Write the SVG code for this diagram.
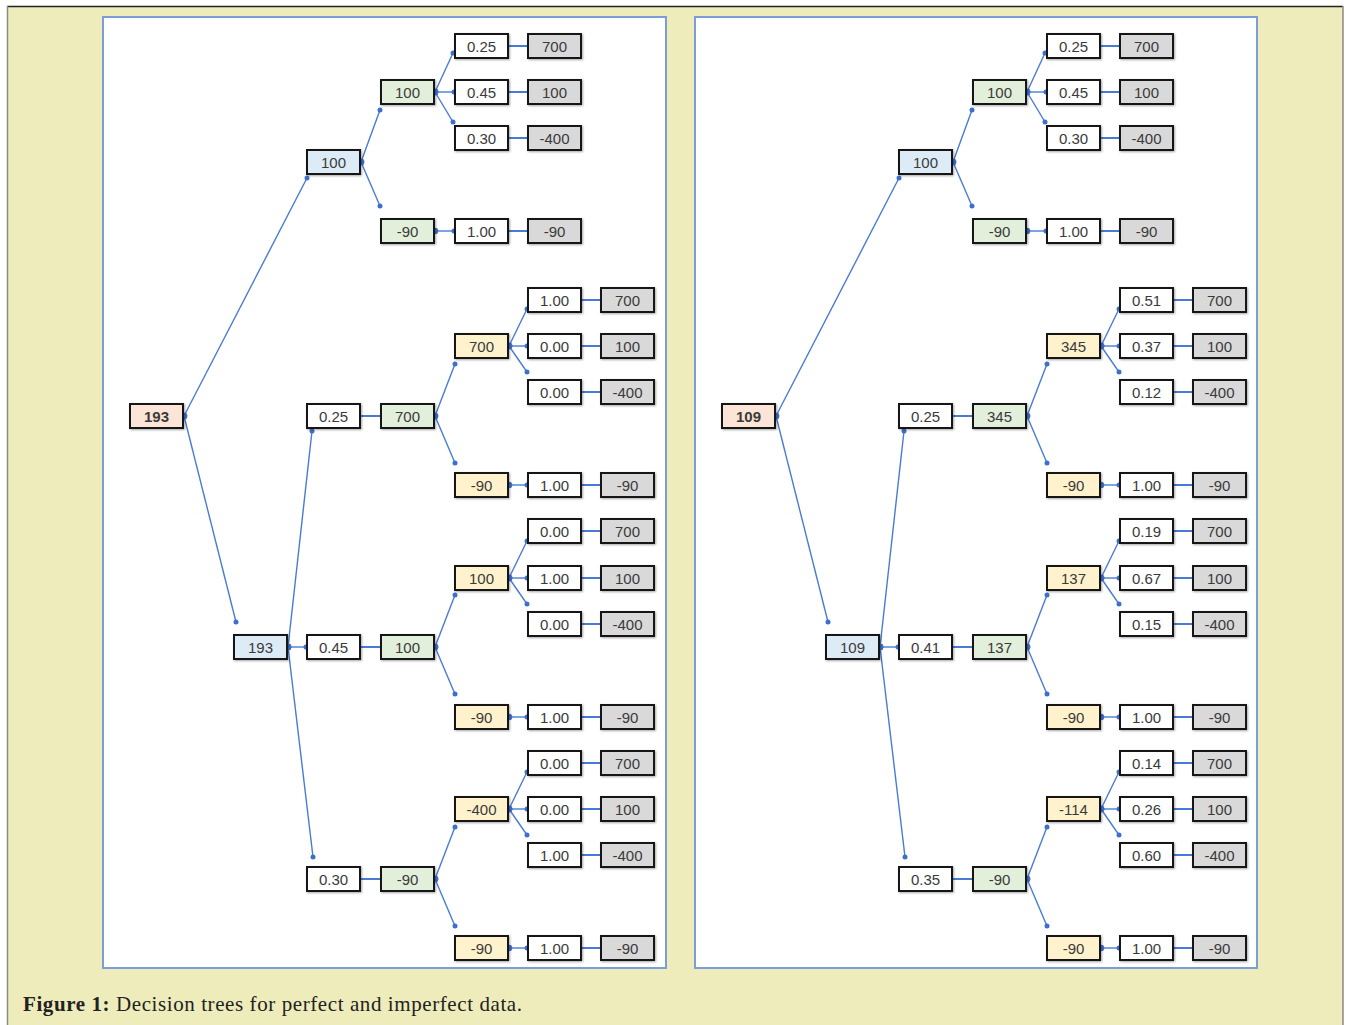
<svg xmlns="http://www.w3.org/2000/svg" width="1346" height="1025" viewBox="0 0 1346 1025">
<style>
  .b{stroke:#141414;stroke-width:2;filter:url(#sh)}
  .w{fill:#ffffff}.bl{fill:#ddebf7}.gr{fill:#e2efda}.ye{fill:#fff2cc}.gy{fill:#d9d9d9}.sa{fill:#fce4d6}
  text.t{font-family:"Liberation Sans",Arial,sans-serif;font-size:15px;fill:#3a3a3a;text-anchor:middle}
  text.bold{font-weight:bold}
  .c{stroke:#4a7bd4;stroke-width:1.4;fill:none}
  .a{marker-start:url(#ds);marker-end:url(#de)}
  .p{stroke-width:2}
  .panel{fill:#ffffff;stroke:#7b9ddb;stroke-width:2}
</style>
<defs>
  <filter id="sh" x="-10%" y="-20%" width="125%" height="150%">
    <feDropShadow dx="1" dy="1" stdDeviation="0.8" flood-color="#000" flood-opacity="0.35"/>
  </filter>
  <marker id="ds" markerUnits="userSpaceOnUse" markerWidth="8" markerHeight="8" refX="4" refY="4" viewBox="0 0 8 8">
    <circle cx="4" cy="4" r="3.3" fill="#3f6fcc"/>
  </marker>
  <marker id="de" markerUnits="userSpaceOnUse" markerWidth="6" markerHeight="6" refX="3" refY="3" viewBox="0 0 6 6">
    <circle cx="3" cy="3" r="2.5" fill="#3f6fcc"/>
  </marker>
</defs>

<!-- figure frame -->
<rect x="0" y="0" width="1346" height="1025" fill="#ffffff"/>
<rect x="7" y="6" width="1336" height="1019" fill="#efecbc"/>
<line x1="7" y1="6.5" x2="1343" y2="6.5" stroke="#222" stroke-width="1.5"/>
<line x1="7.5" y1="6" x2="7.5" y2="1025" stroke="#8a8a8a" stroke-width="1.5"/>
<line x1="1343" y1="6" x2="1343" y2="1025" stroke="#8a8a8a" stroke-width="1.5"/>

<!-- panels -->
<rect class="panel" x="103" y="17" width="563" height="951"/>
<rect class="panel" x="695" y="17" width="562" height="951"/>

<text x="23" y="1011" font-family="'Liberation Serif','Times New Roman',serif" font-size="21" fill="#222" textLength="499" lengthAdjust="spacing"><tspan font-weight="bold">Figure 1:</tspan> Decision trees for perfect and imperfect data.</text>

<!-- ===== perfect-data tree ===== -->
<g id="connectors-left">
  <line class="c a" x1="184" y1="416" x2="307" y2="178"/>
  <line class="c a" x1="184" y1="416" x2="236" y2="622"/>
  <line class="c a" x1="288" y1="647" x2="312" y2="431"/>
  <line class="c a" x1="288" y1="647" x2="306" y2="647"/>
  <line class="c a" x1="288" y1="647" x2="313" y2="857"/>
  <line class="c a" x1="361" y1="162" x2="380" y2="110"/>
  <line class="c a" x1="361" y1="162" x2="380" y2="206"/>
  <line class="c p" x1="360" y1="416" x2="381" y2="416"/>
  <line class="c p" x1="360" y1="647" x2="381" y2="647"/>
  <line class="c p" x1="360" y1="879" x2="381" y2="879"/>
  <line class="c a" x1="435" y1="92" x2="453" y2="53"/>
  <line class="c a" x1="435" y1="92" x2="454" y2="92"/>
  <line class="c a" x1="435" y1="92" x2="453" y2="122"/>
  <line class="c a" x1="435" y1="231" x2="454" y2="231"/>
  <line class="c a" x1="435" y1="416" x2="455" y2="364"/>
  <line class="c a" x1="435" y1="416" x2="455" y2="463"/>
  <line class="c a" x1="435" y1="647" x2="455" y2="595"/>
  <line class="c a" x1="435" y1="647" x2="455" y2="694"/>
  <line class="c a" x1="435" y1="879" x2="455" y2="827"/>
  <line class="c a" x1="435" y1="879" x2="455" y2="926"/>
  <line class="c p" x1="508" y1="46" x2="528" y2="46"/>
  <line class="c p" x1="508" y1="92" x2="528" y2="92"/>
  <line class="c p" x1="508" y1="138" x2="528" y2="138"/>
  <line class="c p" x1="508" y1="231" x2="528" y2="231"/>
  <line class="c a" x1="509" y1="346" x2="527" y2="309"/>
  <line class="c a" x1="509" y1="346" x2="527" y2="346"/>
  <line class="c a" x1="509" y1="346" x2="527" y2="372"/>
  <line class="c a" x1="509" y1="485" x2="527" y2="485"/>
  <line class="c a" x1="509" y1="578" x2="527" y2="541"/>
  <line class="c a" x1="509" y1="578" x2="527" y2="578"/>
  <line class="c a" x1="509" y1="578" x2="527" y2="604"/>
  <line class="c a" x1="509" y1="717" x2="527" y2="717"/>
  <line class="c a" x1="509" y1="809" x2="527" y2="772"/>
  <line class="c a" x1="509" y1="809" x2="527" y2="809"/>
  <line class="c a" x1="509" y1="809" x2="527" y2="835"/>
  <line class="c a" x1="509" y1="948" x2="527" y2="948"/>
  <line class="c p" x1="581" y1="300" x2="601" y2="300"/>
  <line class="c p" x1="581" y1="346" x2="601" y2="346"/>
  <line class="c p" x1="581" y1="392" x2="601" y2="392"/>
  <line class="c p" x1="581" y1="485" x2="601" y2="485"/>
  <line class="c p" x1="581" y1="531" x2="601" y2="531"/>
  <line class="c p" x1="581" y1="578" x2="601" y2="578"/>
  <line class="c p" x1="581" y1="624" x2="601" y2="624"/>
  <line class="c p" x1="581" y1="717" x2="601" y2="717"/>
  <line class="c p" x1="581" y1="763" x2="601" y2="763"/>
  <line class="c p" x1="581" y1="809" x2="601" y2="809"/>
  <line class="c p" x1="581" y1="855" x2="601" y2="855"/>
  <line class="c p" x1="581" y1="948" x2="601" y2="948"/>
</g>

<g id="L-root"><rect class="b sa" x="130" y="404" width="53" height="24"/><text class="t bold" x="156.5" y="421.5">193</text></g>
<g id="L-chance"><rect class="b bl" x="234" y="635" width="53" height="24"/><text class="t" x="260.5" y="652.5">193</text></g>

<g id="L-a"><rect class="b bl" x="307" y="150" width="53" height="24"/><text class="t" x="333.5" y="167.5">100</text></g>
<g id="L-a1"><rect class="b gr" x="381" y="80" width="53" height="24"/><text class="t" x="407.5" y="97.5">100</text></g>
<g id="L-a2"><rect class="b gr" x="381" y="219" width="53" height="24"/><text class="t" x="407.5" y="236.5">-90</text></g>
<g id="L-a1p1"><rect class="b w" x="455" y="34" width="53" height="24"/><text class="t" x="481.5" y="51.5">0.25</text></g>
<g id="L-a1v1"><rect class="b gy" x="528" y="34" width="53" height="24"/><text class="t" x="554.5" y="51.5">700</text></g>
<g id="L-a1p2"><rect class="b w" x="455" y="80" width="53" height="24"/><text class="t" x="481.5" y="97.5">0.45</text></g>
<g id="L-a1v2"><rect class="b gy" x="528" y="80" width="53" height="24"/><text class="t" x="554.5" y="97.5">100</text></g>
<g id="L-a1p3"><rect class="b w" x="455" y="126" width="53" height="24"/><text class="t" x="481.5" y="143.5">0.30</text></g>
<g id="L-a1v3"><rect class="b gy" x="528" y="126" width="53" height="24"/><text class="t" x="554.5" y="143.5">-400</text></g>
<g id="L-a2p"><rect class="b w" x="455" y="219" width="53" height="24"/><text class="t" x="481.5" y="236.5">1.00</text></g>
<g id="L-a2v"><rect class="b gy" x="528" y="219" width="53" height="24"/><text class="t" x="554.5" y="236.5">-90</text></g>

<g id="L-b"><rect class="b w" x="307" y="404" width="53" height="24"/><text class="t" x="333.5" y="421.5">0.25</text></g>
<g id="L-b0"><rect class="b gr" x="381" y="404" width="53" height="24"/><text class="t" x="407.5" y="421.5">700</text></g>
<g id="L-b1"><rect class="b ye" x="455" y="334" width="53" height="24"/><text class="t" x="481.5" y="351.5">700</text></g>
<g id="L-b1p1"><rect class="b w" x="528" y="288" width="53" height="24"/><text class="t" x="554.5" y="305.5">1.00</text></g>
<g id="L-b1v1"><rect class="b gy" x="601" y="288" width="53" height="24"/><text class="t" x="627.5" y="305.5">700</text></g>
<g id="L-b1p2"><rect class="b w" x="528" y="334" width="53" height="24"/><text class="t" x="554.5" y="351.5">0.00</text></g>
<g id="L-b1v2"><rect class="b gy" x="601" y="334" width="53" height="24"/><text class="t" x="627.5" y="351.5">100</text></g>
<g id="L-b1p3"><rect class="b w" x="528" y="380" width="53" height="24"/><text class="t" x="554.5" y="397.5">0.00</text></g>
<g id="L-b1v3"><rect class="b gy" x="601" y="380" width="53" height="24"/><text class="t" x="627.5" y="397.5">-400</text></g>
<g id="L-b2"><rect class="b ye" x="455" y="473" width="53" height="24"/><text class="t" x="481.5" y="490.5">-90</text></g>
<g id="L-b2p"><rect class="b w" x="528" y="473" width="53" height="24"/><text class="t" x="554.5" y="490.5">1.00</text></g>
<g id="L-b2v"><rect class="b gy" x="601" y="473" width="53" height="24"/><text class="t" x="627.5" y="490.5">-90</text></g>

<g id="L-c"><rect class="b w" x="307" y="635" width="53" height="24"/><text class="t" x="333.5" y="652.5">0.45</text></g>
<g id="L-c0"><rect class="b gr" x="381" y="635" width="53" height="24"/><text class="t" x="407.5" y="652.5">100</text></g>
<g id="L-c1"><rect class="b ye" x="455" y="566" width="53" height="24"/><text class="t" x="481.5" y="583.5">100</text></g>
<g id="L-c1p1"><rect class="b w" x="528" y="519" width="53" height="24"/><text class="t" x="554.5" y="536.5">0.00</text></g>
<g id="L-c1v1"><rect class="b gy" x="601" y="519" width="53" height="24"/><text class="t" x="627.5" y="536.5">700</text></g>
<g id="L-c1p2"><rect class="b w" x="528" y="566" width="53" height="24"/><text class="t" x="554.5" y="583.5">1.00</text></g>
<g id="L-c1v2"><rect class="b gy" x="601" y="566" width="53" height="24"/><text class="t" x="627.5" y="583.5">100</text></g>
<g id="L-c1p3"><rect class="b w" x="528" y="612" width="53" height="24"/><text class="t" x="554.5" y="629.5">0.00</text></g>
<g id="L-c1v3"><rect class="b gy" x="601" y="612" width="53" height="24"/><text class="t" x="627.5" y="629.5">-400</text></g>
<g id="L-c2"><rect class="b ye" x="455" y="705" width="53" height="24"/><text class="t" x="481.5" y="722.5">-90</text></g>
<g id="L-c2p"><rect class="b w" x="528" y="705" width="53" height="24"/><text class="t" x="554.5" y="722.5">1.00</text></g>
<g id="L-c2v"><rect class="b gy" x="601" y="705" width="53" height="24"/><text class="t" x="627.5" y="722.5">-90</text></g>

<g id="L-d"><rect class="b w" x="307" y="867" width="53" height="24"/><text class="t" x="333.5" y="884.5">0.30</text></g>
<g id="L-d0"><rect class="b gr" x="381" y="867" width="53" height="24"/><text class="t" x="407.5" y="884.5">-90</text></g>
<g id="L-d1"><rect class="b ye" x="455" y="797" width="53" height="24"/><text class="t" x="481.5" y="814.5">-400</text></g>
<g id="L-d1p1"><rect class="b w" x="528" y="751" width="53" height="24"/><text class="t" x="554.5" y="768.5">0.00</text></g>
<g id="L-d1v1"><rect class="b gy" x="601" y="751" width="53" height="24"/><text class="t" x="627.5" y="768.5">700</text></g>
<g id="L-d1p2"><rect class="b w" x="528" y="797" width="53" height="24"/><text class="t" x="554.5" y="814.5">0.00</text></g>
<g id="L-d1v2"><rect class="b gy" x="601" y="797" width="53" height="24"/><text class="t" x="627.5" y="814.5">100</text></g>
<g id="L-d1p3"><rect class="b w" x="528" y="843" width="53" height="24"/><text class="t" x="554.5" y="860.5">1.00</text></g>
<g id="L-d1v3"><rect class="b gy" x="601" y="843" width="53" height="24"/><text class="t" x="627.5" y="860.5">-400</text></g>
<g id="L-d2"><rect class="b ye" x="455" y="936" width="53" height="24"/><text class="t" x="481.5" y="953.5">-90</text></g>
<g id="L-d2p"><rect class="b w" x="528" y="936" width="53" height="24"/><text class="t" x="554.5" y="953.5">1.00</text></g>
<g id="L-d2v"><rect class="b gy" x="601" y="936" width="53" height="24"/><text class="t" x="627.5" y="953.5">-90</text></g>

<!-- ===== imperfect-data tree (same layout, shifted right) ===== -->
<g transform="translate(592,0)">
<g id="connectors-right">
  <line class="c a" x1="184" y1="416" x2="307" y2="178"/>
  <line class="c a" x1="184" y1="416" x2="236" y2="622"/>
  <line class="c a" x1="288" y1="647" x2="312" y2="431"/>
  <line class="c a" x1="288" y1="647" x2="306" y2="647"/>
  <line class="c a" x1="288" y1="647" x2="313" y2="857"/>
  <line class="c a" x1="361" y1="162" x2="380" y2="110"/>
  <line class="c a" x1="361" y1="162" x2="380" y2="206"/>
  <line class="c p" x1="360" y1="416" x2="381" y2="416"/>
  <line class="c p" x1="360" y1="647" x2="381" y2="647"/>
  <line class="c p" x1="360" y1="879" x2="381" y2="879"/>
  <line class="c a" x1="435" y1="92" x2="453" y2="53"/>
  <line class="c a" x1="435" y1="92" x2="454" y2="92"/>
  <line class="c a" x1="435" y1="92" x2="453" y2="122"/>
  <line class="c a" x1="435" y1="231" x2="454" y2="231"/>
  <line class="c a" x1="435" y1="416" x2="455" y2="364"/>
  <line class="c a" x1="435" y1="416" x2="455" y2="463"/>
  <line class="c a" x1="435" y1="647" x2="455" y2="595"/>
  <line class="c a" x1="435" y1="647" x2="455" y2="694"/>
  <line class="c a" x1="435" y1="879" x2="455" y2="827"/>
  <line class="c a" x1="435" y1="879" x2="455" y2="926"/>
  <line class="c p" x1="508" y1="46" x2="528" y2="46"/>
  <line class="c p" x1="508" y1="92" x2="528" y2="92"/>
  <line class="c p" x1="508" y1="138" x2="528" y2="138"/>
  <line class="c p" x1="508" y1="231" x2="528" y2="231"/>
  <line class="c a" x1="509" y1="346" x2="527" y2="309"/>
  <line class="c a" x1="509" y1="346" x2="527" y2="346"/>
  <line class="c a" x1="509" y1="346" x2="527" y2="372"/>
  <line class="c a" x1="509" y1="485" x2="527" y2="485"/>
  <line class="c a" x1="509" y1="578" x2="527" y2="541"/>
  <line class="c a" x1="509" y1="578" x2="527" y2="578"/>
  <line class="c a" x1="509" y1="578" x2="527" y2="604"/>
  <line class="c a" x1="509" y1="717" x2="527" y2="717"/>
  <line class="c a" x1="509" y1="809" x2="527" y2="772"/>
  <line class="c a" x1="509" y1="809" x2="527" y2="809"/>
  <line class="c a" x1="509" y1="809" x2="527" y2="835"/>
  <line class="c a" x1="509" y1="948" x2="527" y2="948"/>
  <line class="c p" x1="581" y1="300" x2="601" y2="300"/>
  <line class="c p" x1="581" y1="346" x2="601" y2="346"/>
  <line class="c p" x1="581" y1="392" x2="601" y2="392"/>
  <line class="c p" x1="581" y1="485" x2="601" y2="485"/>
  <line class="c p" x1="581" y1="531" x2="601" y2="531"/>
  <line class="c p" x1="581" y1="578" x2="601" y2="578"/>
  <line class="c p" x1="581" y1="624" x2="601" y2="624"/>
  <line class="c p" x1="581" y1="717" x2="601" y2="717"/>
  <line class="c p" x1="581" y1="763" x2="601" y2="763"/>
  <line class="c p" x1="581" y1="809" x2="601" y2="809"/>
  <line class="c p" x1="581" y1="855" x2="601" y2="855"/>
  <line class="c p" x1="581" y1="948" x2="601" y2="948"/>
</g>

<g id="R-root"><rect class="b sa" x="130" y="404" width="53" height="24"/><text class="t bold" x="156.5" y="421.5">109</text></g>
<g id="R-chance"><rect class="b bl" x="234" y="635" width="53" height="24"/><text class="t" x="260.5" y="652.5">109</text></g>

<g id="R-a"><rect class="b bl" x="307" y="150" width="53" height="24"/><text class="t" x="333.5" y="167.5">100</text></g>
<g id="R-a1"><rect class="b gr" x="381" y="80" width="53" height="24"/><text class="t" x="407.5" y="97.5">100</text></g>
<g id="R-a2"><rect class="b gr" x="381" y="219" width="53" height="24"/><text class="t" x="407.5" y="236.5">-90</text></g>
<g id="R-a1p1"><rect class="b w" x="455" y="34" width="53" height="24"/><text class="t" x="481.5" y="51.5">0.25</text></g>
<g id="R-a1v1"><rect class="b gy" x="528" y="34" width="53" height="24"/><text class="t" x="554.5" y="51.5">700</text></g>
<g id="R-a1p2"><rect class="b w" x="455" y="80" width="53" height="24"/><text class="t" x="481.5" y="97.5">0.45</text></g>
<g id="R-a1v2"><rect class="b gy" x="528" y="80" width="53" height="24"/><text class="t" x="554.5" y="97.5">100</text></g>
<g id="R-a1p3"><rect class="b w" x="455" y="126" width="53" height="24"/><text class="t" x="481.5" y="143.5">0.30</text></g>
<g id="R-a1v3"><rect class="b gy" x="528" y="126" width="53" height="24"/><text class="t" x="554.5" y="143.5">-400</text></g>
<g id="R-a2p"><rect class="b w" x="455" y="219" width="53" height="24"/><text class="t" x="481.5" y="236.5">1.00</text></g>
<g id="R-a2v"><rect class="b gy" x="528" y="219" width="53" height="24"/><text class="t" x="554.5" y="236.5">-90</text></g>

<g id="R-b"><rect class="b w" x="307" y="404" width="53" height="24"/><text class="t" x="333.5" y="421.5">0.25</text></g>
<g id="R-b0"><rect class="b gr" x="381" y="404" width="53" height="24"/><text class="t" x="407.5" y="421.5">345</text></g>
<g id="R-b1"><rect class="b ye" x="455" y="334" width="53" height="24"/><text class="t" x="481.5" y="351.5">345</text></g>
<g id="R-b1p1"><rect class="b w" x="528" y="288" width="53" height="24"/><text class="t" x="554.5" y="305.5">0.51</text></g>
<g id="R-b1v1"><rect class="b gy" x="601" y="288" width="53" height="24"/><text class="t" x="627.5" y="305.5">700</text></g>
<g id="R-b1p2"><rect class="b w" x="528" y="334" width="53" height="24"/><text class="t" x="554.5" y="351.5">0.37</text></g>
<g id="R-b1v2"><rect class="b gy" x="601" y="334" width="53" height="24"/><text class="t" x="627.5" y="351.5">100</text></g>
<g id="R-b1p3"><rect class="b w" x="528" y="380" width="53" height="24"/><text class="t" x="554.5" y="397.5">0.12</text></g>
<g id="R-b1v3"><rect class="b gy" x="601" y="380" width="53" height="24"/><text class="t" x="627.5" y="397.5">-400</text></g>
<g id="R-b2"><rect class="b ye" x="455" y="473" width="53" height="24"/><text class="t" x="481.5" y="490.5">-90</text></g>
<g id="R-b2p"><rect class="b w" x="528" y="473" width="53" height="24"/><text class="t" x="554.5" y="490.5">1.00</text></g>
<g id="R-b2v"><rect class="b gy" x="601" y="473" width="53" height="24"/><text class="t" x="627.5" y="490.5">-90</text></g>

<g id="R-c"><rect class="b w" x="307" y="635" width="53" height="24"/><text class="t" x="333.5" y="652.5">0.41</text></g>
<g id="R-c0"><rect class="b gr" x="381" y="635" width="53" height="24"/><text class="t" x="407.5" y="652.5">137</text></g>
<g id="R-c1"><rect class="b ye" x="455" y="566" width="53" height="24"/><text class="t" x="481.5" y="583.5">137</text></g>
<g id="R-c1p1"><rect class="b w" x="528" y="519" width="53" height="24"/><text class="t" x="554.5" y="536.5">0.19</text></g>
<g id="R-c1v1"><rect class="b gy" x="601" y="519" width="53" height="24"/><text class="t" x="627.5" y="536.5">700</text></g>
<g id="R-c1p2"><rect class="b w" x="528" y="566" width="53" height="24"/><text class="t" x="554.5" y="583.5">0.67</text></g>
<g id="R-c1v2"><rect class="b gy" x="601" y="566" width="53" height="24"/><text class="t" x="627.5" y="583.5">100</text></g>
<g id="R-c1p3"><rect class="b w" x="528" y="612" width="53" height="24"/><text class="t" x="554.5" y="629.5">0.15</text></g>
<g id="R-c1v3"><rect class="b gy" x="601" y="612" width="53" height="24"/><text class="t" x="627.5" y="629.5">-400</text></g>
<g id="R-c2"><rect class="b ye" x="455" y="705" width="53" height="24"/><text class="t" x="481.5" y="722.5">-90</text></g>
<g id="R-c2p"><rect class="b w" x="528" y="705" width="53" height="24"/><text class="t" x="554.5" y="722.5">1.00</text></g>
<g id="R-c2v"><rect class="b gy" x="601" y="705" width="53" height="24"/><text class="t" x="627.5" y="722.5">-90</text></g>

<g id="R-d"><rect class="b w" x="307" y="867" width="53" height="24"/><text class="t" x="333.5" y="884.5">0.35</text></g>
<g id="R-d0"><rect class="b gr" x="381" y="867" width="53" height="24"/><text class="t" x="407.5" y="884.5">-90</text></g>
<g id="R-d1"><rect class="b ye" x="455" y="797" width="53" height="24"/><text class="t" x="481.5" y="814.5">-114</text></g>
<g id="R-d1p1"><rect class="b w" x="528" y="751" width="53" height="24"/><text class="t" x="554.5" y="768.5">0.14</text></g>
<g id="R-d1v1"><rect class="b gy" x="601" y="751" width="53" height="24"/><text class="t" x="627.5" y="768.5">700</text></g>
<g id="R-d1p2"><rect class="b w" x="528" y="797" width="53" height="24"/><text class="t" x="554.5" y="814.5">0.26</text></g>
<g id="R-d1v2"><rect class="b gy" x="601" y="797" width="53" height="24"/><text class="t" x="627.5" y="814.5">100</text></g>
<g id="R-d1p3"><rect class="b w" x="528" y="843" width="53" height="24"/><text class="t" x="554.5" y="860.5">0.60</text></g>
<g id="R-d1v3"><rect class="b gy" x="601" y="843" width="53" height="24"/><text class="t" x="627.5" y="860.5">-400</text></g>
<g id="R-d2"><rect class="b ye" x="455" y="936" width="53" height="24"/><text class="t" x="481.5" y="953.5">-90</text></g>
<g id="R-d2p"><rect class="b w" x="528" y="936" width="53" height="24"/><text class="t" x="554.5" y="953.5">1.00</text></g>
<g id="R-d2v"><rect class="b gy" x="601" y="936" width="53" height="24"/><text class="t" x="627.5" y="953.5">-90</text></g>
</g>
</svg>
